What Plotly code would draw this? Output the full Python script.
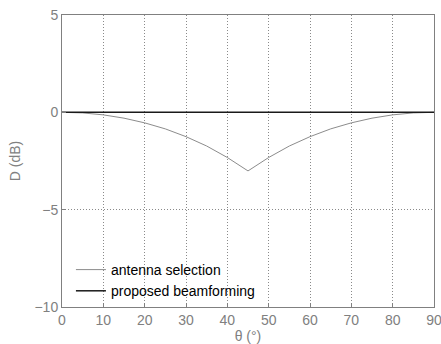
import plotly.graph_objects as go

theta = [0, 5, 10, 15, 20, 25, 30, 35, 40, 45, 50, 55, 60, 65, 70, 75, 80, 85, 90]
antenna_selection = [0.0, -0.03, -0.13, -0.30, -0.54, -0.85, -1.25, -1.73, -2.32, -3.01,
                     -2.32, -1.73, -1.25, -0.85, -0.54, -0.30, -0.13, -0.03, 0.0]
proposed_beamforming = [0.0] * len(theta)

x_ticks = [0, 10, 20, 30, 40, 50, 60, 70, 80, 90]
y_ticks = [-10, -5, 0, 5]
y_tick_labels = ["\u221210", "\u22125", "0", "5"]

FONT = "Liberation Sans, Arial"
GRAY = "#808080"

fig = go.Figure()
fig.add_trace(go.Scatter(x=theta, y=antenna_selection, mode="lines", name="antenna selection",
                         line=dict(color="#8c8c8c", width=1)))
fig.add_trace(go.Scatter(x=theta, y=proposed_beamforming, mode="lines", name="proposed beamforming",
                         line=dict(color="#1a1a1a", width=1.5)))

axis_common = dict(showline=True, linecolor=GRAY, linewidth=1, mirror=True,
                   ticks="inside", ticklen=4, tickcolor=GRAY, automargin=False,
                   ticklabeloverflow="allow",
                   showgrid=True, gridcolor="#8a8a8a", griddash="1px,2px", gridwidth=1,
                   zeroline=False, tickfont=dict(family=FONT, size=14, color=GRAY))

fig.update_xaxes(range=[0, 90], tickvals=x_ticks, title=dict(text="\u03b8 (\u00b0)", standoff=4,
                 font=dict(family=FONT, size=14, color=GRAY)), **axis_common)
fig.update_yaxes(range=[-10, 5], tickvals=y_ticks, ticktext=y_tick_labels,
                 title=dict(text="D (dB)", standoff=10,
                            font=dict(family=FONT, size=14, color=GRAY)),
                 **axis_common)

fig.update_layout(width=441, height=344, margin=dict(l=62, r=7, t=15, b=37),
                  plot_bgcolor="white", paper_bgcolor="white",
                  legend=dict(x=0.024, y=0.0, xanchor="left", yanchor="bottom",
                              bgcolor="rgba(255,255,255,0)", tracegroupgap=0,
                              font=dict(family=FONT, size=14, color="#000000")),
                  showlegend=True)

# remove the default 8px page margin so the figure fills the window exactly
fig.write_html("out.html", config={"displayModeBar": False},
               post_script="document.body.style.margin='0px';")
